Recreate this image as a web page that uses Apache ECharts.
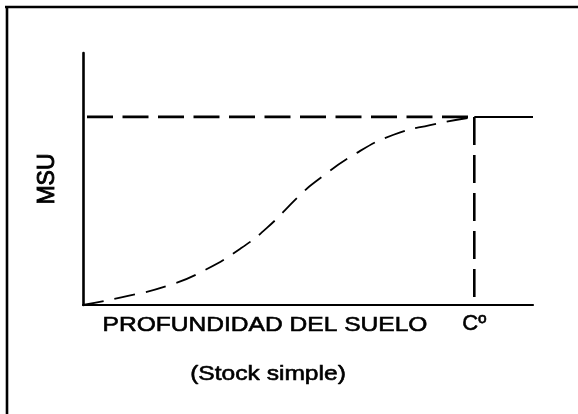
<!DOCTYPE html>
<html>
<head>
<meta charset="utf-8">
<script src="https://cdn.jsdelivr.net/npm/echarts@6/dist/echarts.min.js"></script>
<style>html,body{margin:0;padding:0;background:#fff}#c{width:578px;height:414px}</style>
</head>
<body>
<div id="c"></div>
<script>
// Depth (x, % of Cº) and MSU (y, % of max level)
const curveX = [0, 11.5, 22.2, 31.2, 40.1, 47, 55.5, 59.3, 70, 79.2, 88.7, 100];
const curveY = [0, 4.8, 10.6, 18.6, 29.8, 41, 58.5, 65.4, 80.9, 90.4, 95.7, 100];
const cDepth = 100;     // Cº position
const msuMax = 100;     // maximum MSU level
const xMax = 115;
const yMax = 134;
const xTickLabel = 'Cº';
const xTitle = 'PROFUNDIDAD DEL SUELO';
const subTitle = '(Stock simple)';
const yTitle = 'MSU';

const curve = curveX.map((x, i) => [x, curveY[i]]);
const font = '"Liberation Sans", Arial, sans-serif';

const chart = echarts.init(document.getElementById('c'), null, {renderer: 'canvas'});
chart.setOption({
  animation: false,
  backgroundColor: '#fff',
  grid: {left: 83, top: 53, right: 45, bottom: 109, containLabel: false},
  xAxis: {
    type: 'value', min: 0, max: xMax, interval: cDepth,
    axisLine: {lineStyle: {color: '#000', width: 2.2}},
    axisTick: {show: false},
    splitLine: {show: false},
    axisLabel: {
      color: '#000', fontFamily: font, fontSize: 22, margin: 8,
      textBorderColor: '#000', textBorderWidth: 0.6,
      formatter: v => (v === cDepth ? xTickLabel : '')
    }
  },
  yAxis: {
    type: 'value', min: 0, max: yMax,
    name: yTitle, nameLocation: 'middle', nameGap: 24, nameRotate: 90,
    nameTextStyle: {color: '#000', fontFamily: font, fontSize: 23, textBorderColor: '#000', textBorderWidth: 0.9},
    axisLine: {lineStyle: {color: '#000', width: 2.6}},
    axisTick: {show: false},
    splitLine: {show: false},
    axisLabel: {show: false}
  },
  series: [
    {
      type: 'line', data: curve, smooth: 0.5, symbol: 'none',
      lineStyle: {color: '#000', width: 1.8, type: [21, 11]}
    },
    {
      type: 'line', data: [[0, msuMax], [cDepth, msuMax]], symbol: 'none',
      lineStyle: {color: '#000', width: 2.8, type: [26, 9.5], dashOffset: -4}
    },
    {
      type: 'line', data: [[cDepth, msuMax], [xMax, msuMax]], symbol: 'none',
      lineStyle: {color: '#000', width: 2}
    },
    {
      type: 'line', data: [[cDepth, msuMax], [cDepth, 0]], symbol: 'none',
      lineStyle: {color: '#000', width: 2.6, type: [28, 10]}
    }
  ],
  graphic: [
    {type: 'line', shape: {x1: 5, y1: 7, x2: 578, y2: 7}, style: {stroke: '#000', lineWidth: 2.6}},
    {type: 'line', shape: {x1: 7, y1: 6, x2: 7, y2: 414}, style: {stroke: '#000', lineWidth: 2.6}},
    {type: 'text', x: 265, y: 325, scaleX: 1.17,
     style: {text: xTitle, font: '21px ' + font, fill: '#000', stroke: '#000', lineWidth: 0.6, align: 'center', verticalAlign: 'middle'}},
    {type: 'text', x: 268, y: 374, scaleX: 1.17,
     style: {text: subTitle, font: '21px ' + font, fill: '#000', stroke: '#000', lineWidth: 0.6, align: 'center', verticalAlign: 'middle'}}
  ]
});
</script>
</body>
</html>
